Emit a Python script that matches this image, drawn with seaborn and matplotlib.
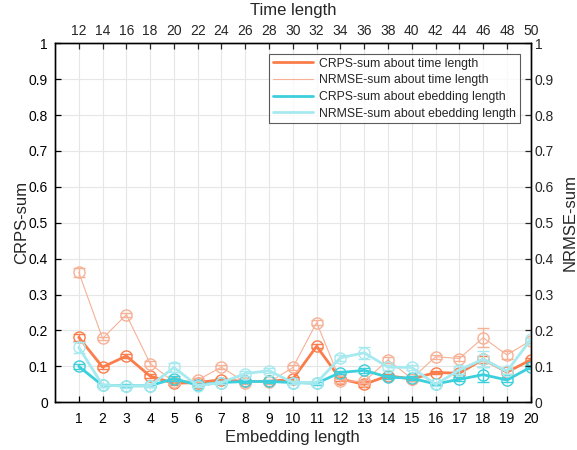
import matplotlib
matplotlib.use("Agg")
import matplotlib.pyplot as plt
import seaborn as sns
import numpy as np
import pandas as pd
from matplotlib.lines import Line2D

embedding_len = list(range(1, 21))
time_len = list(range(12, 51, 2))

crps_time = [0.181, 0.098, 0.129, 0.073, 0.053, 0.055, 0.063, 0.058, 0.058, 0.065,
             0.156, 0.065, 0.050, 0.074, 0.065, 0.083, 0.081, 0.120, 0.084, 0.118]
nrmse_time = [0.362, 0.178, 0.244, 0.108, 0.056, 0.062, 0.098, 0.055, 0.056, 0.097,
              0.222, 0.060, 0.058, 0.118, 0.066, 0.127, 0.122, 0.180, 0.132, 0.172]
crps_emb = [0.100, 0.047, 0.046, 0.046, 0.066, 0.048, 0.055, 0.058, 0.058, 0.055,
            0.053, 0.083, 0.089, 0.070, 0.067, 0.051, 0.064, 0.077, 0.062, 0.098]
nrmse_emb = [0.153, 0.048, 0.045, 0.046, 0.097, 0.046, 0.055, 0.080, 0.088, 0.055,
             0.055, 0.124, 0.138, 0.098, 0.097, 0.050, 0.090, 0.120, 0.086, 0.175]

err_crps_time = [0.010, 0.004, 0.005, 0.005, 0.005, 0.004, 0.005, 0.005, 0.004, 0.005,
                 0.006, 0.006, 0.008, 0.006, 0.005, 0.005, 0.005, 0.010, 0.005, 0.006]
err_nrmse_time = [0.013, 0.005, 0.006, 0.006, 0.005, 0.005, 0.005, 0.005, 0.004, 0.006,
                  0.007, 0.005, 0.005, 0.009, 0.006, 0.006, 0.006, 0.026, 0.010, 0.006]
err_crps_emb = [0.008, 0.004, 0.004, 0.004, 0.008, 0.004, 0.004, 0.004, 0.004, 0.004,
                0.004, 0.005, 0.006, 0.005, 0.005, 0.004, 0.006, 0.020, 0.006, 0.006]
err_nrmse_emb = [0.015, 0.004, 0.004, 0.004, 0.012, 0.004, 0.004, 0.006, 0.007, 0.004,
                 0.004, 0.008, 0.016, 0.007, 0.008, 0.004, 0.012, 0.022, 0.007, 0.005]

labels = ["CRPS-sum about time length", "NRMSE-sum about time length",
          "CRPS-sum about ebedding length", "NRMSE-sum about ebedding length"]

sns.set_style("white")
plt.rcParams['font.family'] = ['Liberation Sans', 'DejaVu Sans']

fig = plt.figure(figsize=(5.77, 4.5), dpi=100)
ax = fig.add_axes([0.0953, 0.106, 0.9198 - 0.0953, 0.9038 - 0.106])

orange = "#FA7D4B"
orange_l = "#F6B196"
cyan = "#3CCFDC"
cyan_l = "#A6E9EF"

series = [
    (crps_time, err_crps_time, orange, 2.0, labels[0]),
    (nrmse_time, err_nrmse_time, orange_l, 0.8, labels[1]),
    (crps_emb, err_crps_emb, cyan, 2.0, labels[2]),
    (nrmse_emb, err_nrmse_emb, cyan_l, 2.0, labels[3]),
]

order = [1, 0, 3, 2]
for i in order:
    vals, errs, col, lw, lab = series[i]
    df = pd.DataFrame({"x": embedding_len, "y": vals})
    sns.lineplot(data=df, x="x", y="y", ax=ax, color=col, lw=lw, marker="o",
                 markersize=8, markerfacecolor="none", markeredgecolor=col,
                 markeredgewidth=1.0, label=lab, zorder=3 + i)
    ax.errorbar(embedding_len, vals, yerr=errs, fmt="none", ecolor=col,
                elinewidth=1.0, capsize=4, capthick=1.0, zorder=3 + i)

ticklabs = ["0"] + [f"{v:.1f}" for v in np.arange(0.1, 0.95, 0.1)] + ["1"]
ax.set_xlim(0, 20)
ax.set_ylim(0, 1)
ax.set_xticks(embedding_len)
ax.set_yticks(np.arange(0, 1.01, 0.1))
ax.set_yticklabels(ticklabs)
ax.grid(True, color="#E6E6E6", lw=0.8)
ax.set_axisbelow(True)
for s in ax.spines.values():
    s.set_color("black")
    s.set_linewidth(0.9)
ax.tick_params(direction="in", length=4, width=0.9, labelsize=10, colors="black",
               top=False, right=False)
ax.tick_params(axis="x", pad=7)
ax.tick_params(axis="y", pad=5)
ax.set_xlabel("Embedding length", fontsize=12, labelpad=3)
ax.set_ylabel("CRPS-sum", fontsize=12, labelpad=0)

axt = ax.twiny()
axt.set_xlim(ax.get_xlim())
axt.set_xticks(embedding_len)
axt.set_xticklabels([str(t) for t in time_len])
axt.tick_params(direction="in", length=4, width=0.9, labelsize=10, pad=4)
axt.set_xlabel("Time length", fontsize=12, labelpad=6)

axr = ax.twinx()
axr.set_ylim(0, 1)
axr.set_yticks(np.arange(0, 1.01, 0.1))
axr.set_yticklabels(ticklabs)
axr.tick_params(direction="in", length=4, width=0.9, labelsize=10, pad=3)
axr.set_ylabel("NRMSE-sum", fontsize=12, labelpad=6)
for a in (axt, axr):
    for s in a.spines.values():
        s.set_color("black")
        s.set_linewidth(0.9)

leg_handles = [Line2D([], [], color=series[i][2], lw=series[i][3]) for i in range(4)]
leg = ax.legend(leg_handles, labels, loc="upper right", bbox_to_anchor=(0.977, 0.97),
                fontsize=8.8, frameon=True, fancybox=False, edgecolor="#333333",
                handlelength=3.3, borderpad=0.3, labelspacing=0.38, handletextpad=0.5,
                borderaxespad=0)
leg.get_frame().set_linewidth(0.8)
leg.set_zorder(20)

fig.savefig("out.png", dpi=100)
